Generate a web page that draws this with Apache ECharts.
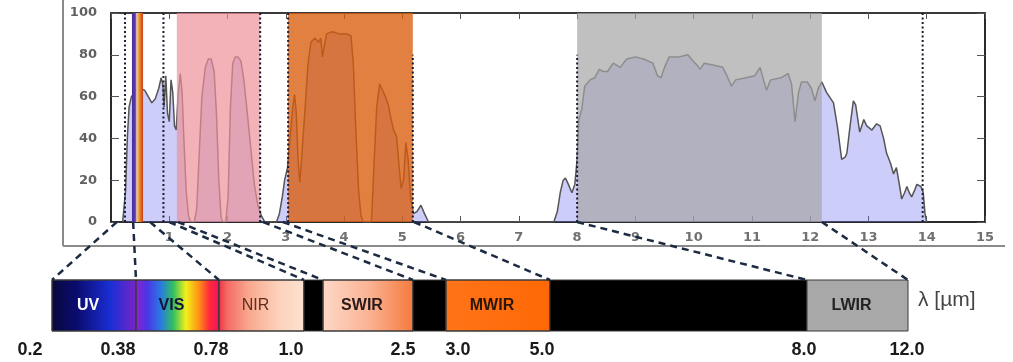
<!DOCTYPE html>
<html><head><meta charset="utf-8">
<script src="https://cdn.jsdelivr.net/npm/echarts@6/dist/echarts.min.js"></script>
<style>html,body{margin:0;padding:0;background:#fff;}#c{width:1013px;height:362px;}</style>
</head><body><div id="c"></div>
<script>
// ---- data ----
const wavelength = [0.20,0.22,0.25,0.28,0.31,0.35,0.42,0.5,0.58,0.64,0.70,0.76,0.82,0.86,0.89,0.91,0.94,0.97,1.00,1.03,1.06,1.09,1.12,1.15,1.19,1.22,1.25,1.29,1.33,1.37,1.43,1.47,1.51,1.56,1.62,1.67,1.72,1.77,1.81,1.85,1.89,1.92,1.97,2.01,2.05,2.09,2.13,2.18,2.23,2.28,2.34,2.40,2.46,2.52,2.58,2.64,2.84,2.89,2.94,2.98,3.03,3.08,3.12,3.15,3.18,3.21,3.24,3.27,3.30,3.34,3.38,3.43,3.50,3.56,3.60,3.63,3.66,3.70,3.80,3.92,4.05,4.12,4.16,4.20,4.25,4.29,4.33,4.47,4.51,4.56,4.61,4.66,4.71,4.76,4.80,4.85,4.90,4.94,4.98,5.02,5.06,5.10,5.14,5.19,5.25,5.32,5.38,5.45,7.60,7.66,7.71,7.76,7.80,7.85,7.91,7.96,8.00,8.03,8.08,8.13,8.22,8.30,8.38,8.45,8.52,8.62,8.74,8.85,9.00,9.14,9.30,9.38,9.44,9.50,9.58,9.75,9.90,9.99,10.06,10.11,10.18,10.35,10.50,10.57,10.65,10.72,10.90,11.05,11.14,11.20,11.25,11.32,11.50,11.62,11.68,11.74,11.80,11.85,11.95,12.02,12.08,12.14,12.20,12.28,12.40,12.47,12.54,12.60,12.63,12.68,12.74,12.78,12.85,12.92,12.97,13.06,13.14,13.20,13.26,13.31,13.38,13.43,13.48,13.53,13.57,13.62,13.66,13.70,13.74,13.79,13.83,13.90,13.94,13.97,14.00];
const transmission = [0,0,15,40,55,60,62,64,63,60,57,59,64,69,66,55,70,52,48,68,62,46,44,60,71,62,40,15,3,0,0,6,30,60,74,78,78,72,52,20,2,0,0,12,55,76,79,79,77,68,52,35,18,8,3,0,0,4,12,20,26,42,55,61,52,30,19,30,42,58,75,86,88,86,88,79,84,90,91,90,90,89,75,45,15,3,0,0,25,55,66,63,60,56,50,44,41,28,16,20,38,30,12,4,5,8,4,0,0,5,14,20,21,18,14,18,30,49,54,65,68,69,73,72,72,76,74,78,79,78,76,70,69,74,79,79,80,77,75,73,76,75,74,70,65,68,69,70,74,68,63,68,69,71,66,48,62,67,67,64,58,64,67,62,57,45,30,31,33,45,58,56,43,49,46,44,47,46,40,33,28,23,26,18,11,14,17,14,12,15,18,17,14,4,0];
const xMin = 0, xMax = 15, xStep = 1;
const yMin = 0, yMax = 100, yStep = 20;
const bandStart = [0.36, 1.13, 3.04, 8.0];
const bandEnd   = [0.55, 2.56, 5.18, 12.2];
const dottedAt  = [0.24, 0.9, 2.56, 3.04, 5.18, 8.0, 13.93];
const dottedTop = [100, 100, 100, 100, 80, 80, 100];
const segNames  = ['UV','VIS','NIR','','SWIR','','MWIR','','LWIR'];
const segWidths = [84, 83, 85, 19, 90, 33, 104, 257, 101];
const scaleLabels   = ['0.2','0.38','0.78','1.0','2.5','3.0','5.0','8.0','12.0'];
const scaleLabelPos = [-22, 66, 159, 239, 351, 406, 490, 752, 855];
const connectorFrom = [0.1, 0.38, 0.67, 1.0, 1.15, 2.61, 2.95, 5.2, 8.0, 12.2];
const connectorTo   = [0, 84, 167, 252, 271, 361, 394, 498, 755, 856];
const unitText = 'λ [µm]';

// ---- styles ----
const G = (stops) => new echarts.graphic.LinearGradient(0, 0, 1, 0, stops.map((c) => ({offset: c[0], color: c[1]})));
const segFills = [
  G([[0,'#08083e'],[0.3,'#0b0b70'],[0.7,'#1a2fd6'],[1,'#7a24c6']]),
  G([[0,'#9020cf'],[0.14,'#4a36e6'],[0.3,'#2a7ae2'],[0.45,'#30c060'],[0.6,'#f2f018'],[0.75,'#ff9418'],[0.88,'#ff2a3a'],[1,'#f0105e']]),
  G([[0,'#ec3046'],[0.1,'#f46a64'],[0.35,'#f8a88e'],[0.7,'#fcd2bc'],[1,'#fde2d0']]),
  '#000',
  G([[0,'#fdd8c6'],[0.5,'#fbb496'],[1,'#f47a3c']]),
  '#000',
  G([[0,'#ff7418'],[1,'#ff6806']]),
  '#000',
  '#a8a8a8'
];
const segLabelStyle = [
  {fill:'#ffffff', fontWeight:'bold'},
  {fill:'#141438', fontWeight:'bold'},
  {fill:'#5e2e20', fontWeight:'normal'},
  null,
  {fill:'#2a1a1a', fontWeight:'bold'},
  null,
  {fill:'#2a1608', fontWeight:'bold'},
  null,
  {fill:'#222222', fontWeight:'bold'}
];
const bandColors = [
  G([[0,'#4a2d96'],[0.3,'#5a3ab0'],[0.38,'#b8a0d8'],[0.45,'#f4d070'],[0.6,'#f0a040'],[0.8,'#e06a20'],[1,'#c84020']]),
  'rgba(236,146,154,0.7)',
  'rgba(217,92,10,0.78)',
  'rgba(165,165,165,0.7)'
];
const tickFont = {color:'#707070', fontFamily:'DejaVu Sans', fontWeight:'bold', fontSize:13};

// ---- build ----
const curve = wavelength.map((w, i) => [w, transmission[i]]);
const segData = [];
let acc = 0;
segWidths.forEach((w) => { segData.push([acc, acc + w]); acc += w; });
const barTotal = acc;

const chart = echarts.init(document.getElementById('c'), null, {renderer:'canvas'});
const option = {
  animation: false,
  backgroundColor: '#fff',
  grid: [
    {left:111, right:28, top:13, height:209},
    {left:52, width:856, top:280, height:51}
  ],
  xAxis: [
    {type:'value', gridIndex:0, min:xMin, max:xMax, interval:xStep,
     axisLine:{onZero:false, lineStyle:{color:'#2a2a2a', width:2}},
     axisTick:{inside:true, length:6, lineStyle:{color:'#555'}},
     axisLabel:Object.assign({showMinLabel:false, margin:9}, tickFont),
     splitLine:{show:false}},
    {type:'value', gridIndex:0, position:'top', min:xMin, max:xMax, interval:xStep,
     axisLine:{onZero:false, lineStyle:{color:'#3a3a3a', width:2}},
     axisTick:{inside:true, length:6, lineStyle:{color:'#555'}},
     axisLabel:{show:false}, splitLine:{show:false}},
    {type:'value', gridIndex:1, min:0, max:barTotal, show:false}
  ],
  yAxis: [
    {type:'value', gridIndex:0, min:yMin, max:yMax, interval:yStep,
     axisLine:{show:true, onZero:false, lineStyle:{color:'#2a2a2a', width:2}},
     axisTick:{show:true, inside:true, length:8, lineStyle:{color:'#555'}},
     axisLabel:Object.assign({margin:14}, tickFont, {color:'#606060'}),
     splitLine:{show:false}},
    {type:'value', gridIndex:0, position:'right', min:yMin, max:yMax, interval:yStep,
     axisLine:{show:true, onZero:false, lineStyle:{color:'#2a2a2a', width:2}},
     axisTick:{show:true, inside:true, length:8, lineStyle:{color:'#555'}},
     axisLabel:{show:false}, splitLine:{show:false}},
    {type:'value', gridIndex:1, min:0, max:1, show:false}
  ],
  series: [
    {type:'line', name:'transmission', xAxisIndex:0, yAxisIndex:0, z:2, data:curve,
     showSymbol:false, symbol:'none', silent:true,
     lineStyle:{color:'#555', width:1.5},
     areaStyle:{color:'rgba(118,118,240,0.52)', origin:'start'}},
    {type:'custom', name:'bands', xAxisIndex:0, yAxisIndex:0, z:5, silent:true,
     data: bandStart.map((s, i) => [s, bandEnd[i]]),
     renderItem:(params, api) => {
       const p0 = api.coord([api.value(0), yMax]);
       const p1 = api.coord([api.value(1), yMin]);
       return {type:'rect', shape:{x:p0[0], y:p0[1], width:p1[0]-p0[0], height:p1[1]-p0[1]},
         style:{fill:bandColors[params.dataIndex]}};
     }},
    {type:'custom', name:'dotted', xAxisIndex:0, yAxisIndex:0, z:6, silent:true,
     data: dottedAt.map((v, i) => [v, dottedTop[i]]),
     renderItem:(params, api) => {
       const a = api.coord([api.value(0), yMin]);
       const b = api.coord([api.value(0), api.value(1)]);
       return {type:'line', shape:{x1:a[0], y1:a[1], x2:b[0], y2:b[1]},
         style:{stroke:'#1a1a30', lineWidth:2, lineDash:[2,2.5]}};
     }},
    {type:'custom', name:'bar', xAxisIndex:2, yAxisIndex:2, z:3, data:segData, silent:true,
     renderItem:(params, api) => {
       const i = params.dataIndex;
       const p0 = api.coord([api.value(0), 1]);
       const p1 = api.coord([api.value(1), 0]);
       const children = [{type:'rect', shape:{x:p0[0], y:p0[1], width:p1[0]-p0[0], height:p1[1]-p0[1]},
         style:{fill:segFills[i], stroke:'#3a3a3a', lineWidth:1}}];
       if (segNames[i]) {
         const st = segLabelStyle[i];
         children.push({type:'text', x:(p0[0]+p1[0])/2 - 6, y:(p0[1]+p1[1])/2,
           style:{text:segNames[i], fill:st.fill, fontWeight:st.fontWeight, fontSize:16,
             fontFamily:'Liberation Sans', align:'center', verticalAlign:'middle'}});
       }
       return {type:'group', children};
     }},
    {type:'custom', name:'scale', xAxisIndex:2, yAxisIndex:2, z:3, silent:true,
     data: scaleLabelPos.map(v => [v, -0.37]),
     renderItem:(params, api) => {
       const p = api.coord([api.value(0), api.value(1)]);
       return {type:'text', x:p[0], y:p[1], style:{text:scaleLabels[params.dataIndex], fill:'#1a1a1a',
         fontWeight:'bold', fontSize:18, fontFamily:'Liberation Sans', align:'center', verticalAlign:'middle'}};
     }}
  ]
};
chart.setOption(option);

// connectors and decorations, positioned through the axes
const pTop = (x, y) => chart.convertToPixel({xAxisIndex:0, yAxisIndex:0}, [x, y]);
const pBot = (x, y) => chart.convertToPixel({xAxisIndex:2, yAxisIndex:2}, [x, y]);
const graphics = [];
connectorFrom.forEach((f, i) => {
  const a = pTop(f, 0), b = pBot(connectorTo[i], 1);
  graphics.push({type:'line', z:10, silent:true, shape:{x1:a[0], y1:a[1], x2:b[0], y2:b[1]},
    style:{stroke:'#1c2a42', lineWidth:2.5, lineDash:[7,5]}});
});
const o = pTop(0, 0), e = pTop(15, 0);
graphics.push({type:'line', z:1, silent:true, shape:{x1:o[0]-48, y1:0, x2:o[0]-48, y2:o[1]+24}, style:{stroke:'#8a8a8a', lineWidth:2}});
graphics.push({type:'line', z:1, silent:true, shape:{x1:o[0]-48, y1:o[1]+24, x2:e[0]+20, y2:o[1]+24}, style:{stroke:'#8a8a8a', lineWidth:2}});
const r = pBot(barTotal, 0.5);
graphics.push({type:'text', z:10, silent:true, x:r[0]+10, y:r[1]-5, style:{text:unitText, fill:'#444', fontSize:21,
  fontFamily:'Liberation Sans', align:'left', verticalAlign:'middle'}});
chart.setOption({graphic: graphics});
</script>
</body></html>
